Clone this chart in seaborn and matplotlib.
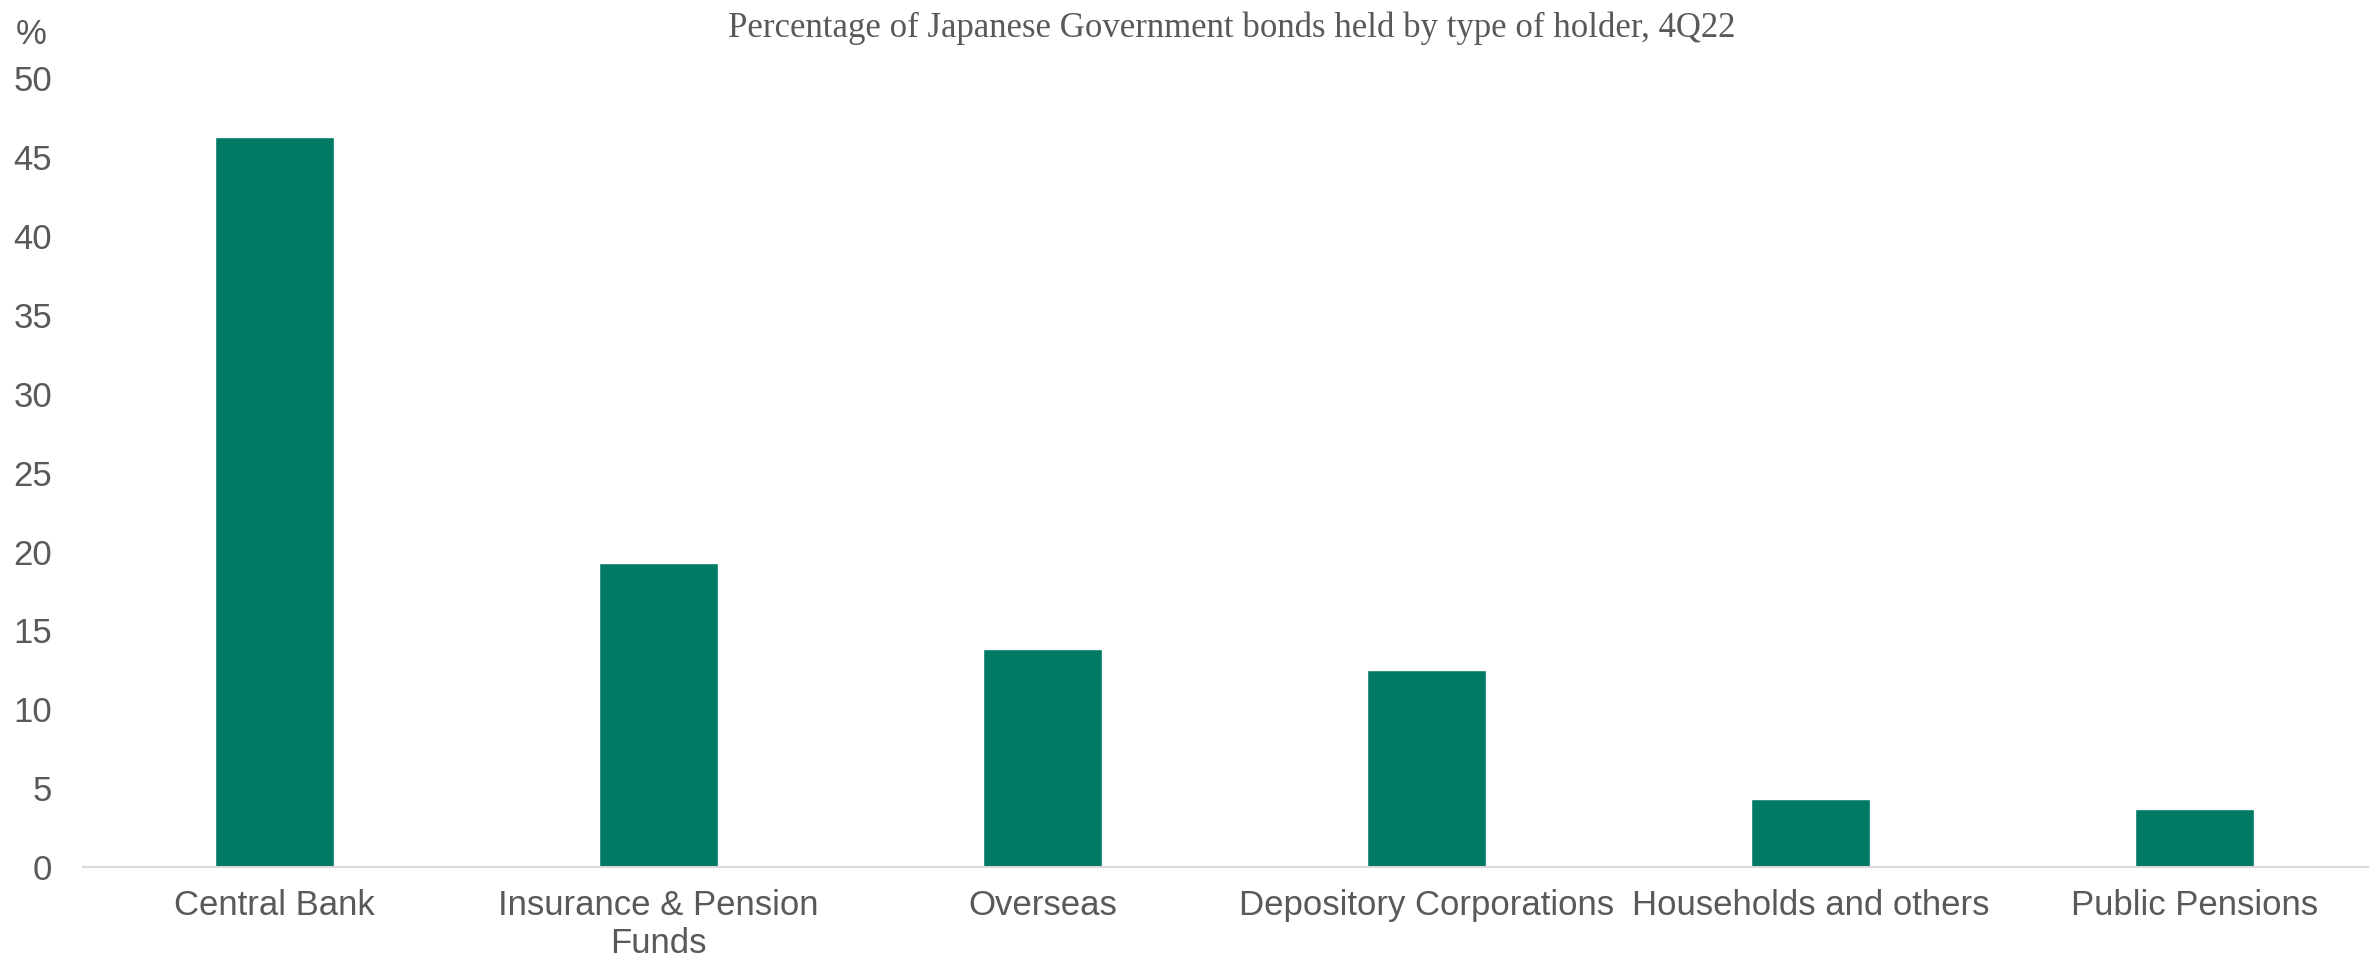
import matplotlib
matplotlib.use("Agg")
import matplotlib.pyplot as plt
import seaborn as sns
import pandas as pd

# Holders of Japanese Government bonds, share of total (%), 4Q22
categories = [
    "Central Bank",
    "Insurance & Pension\nFunds",
    "Overseas",
    "Depository Corporations",
    "Households and others",
    "Public Pensions",
]
shares = [46.3, 19.3, 13.8, 12.5, 4.3, 3.7]
y_ticks = [0, 5, 10, 15, 20, 25, 30, 35, 40, 45, 50]

title_text = "Percentage of Japanese Government bonds held by type of holder, 4Q22"
unit_label = "%"

bar_color = "#007A62"
text_color = "#595959"
axis_line_color = "#D9D9D9"

sns.set_theme(style="white")
plt.rcParams["font.family"] = ["Liberation Sans", "DejaVu Sans"]

df = pd.DataFrame({"holder": categories, "share": shares})

fig = plt.figure(figsize=(23.69, 9.64), dpi=100)
ax = fig.add_axes([0.035, 0.1006, 0.9722, 0.818])

sns.barplot(data=df, x="holder", y="share", color=bar_color, width=0.31,
            saturation=1, ax=ax)

ax.set_xlim(-0.5, len(categories) - 0.5)
ax.set_ylim(0, 50)
ax.set_yticks(y_ticks)
ax.set_xlabel("")
ax.set_ylabel("")

for side in ("top", "right", "left"):
    ax.spines[side].set_visible(False)
ax.spines["bottom"].set_color(axis_line_color)
ax.spines["bottom"].set_linewidth(1.5)

ax.tick_params(axis="y", length=0, pad=22, labelsize=25, labelcolor=text_color)
ax.tick_params(axis="x", length=0, pad=16, labelsize=25, labelcolor=text_color)
for lbl in ax.get_xticklabels():
    lbl.set_linespacing(1.17)

fig.text(0.013, 1 - 35 / 964, unit_label, ha="center", va="center",
         fontsize=25, color=text_color)
fig.text(0.520, 1 - 37 / 964, title_text, ha="center", va="baseline",
         fontsize=25, color=text_color, family=["Liberation Serif", "DejaVu Serif"])

fig.savefig("out.png", dpi=100)
